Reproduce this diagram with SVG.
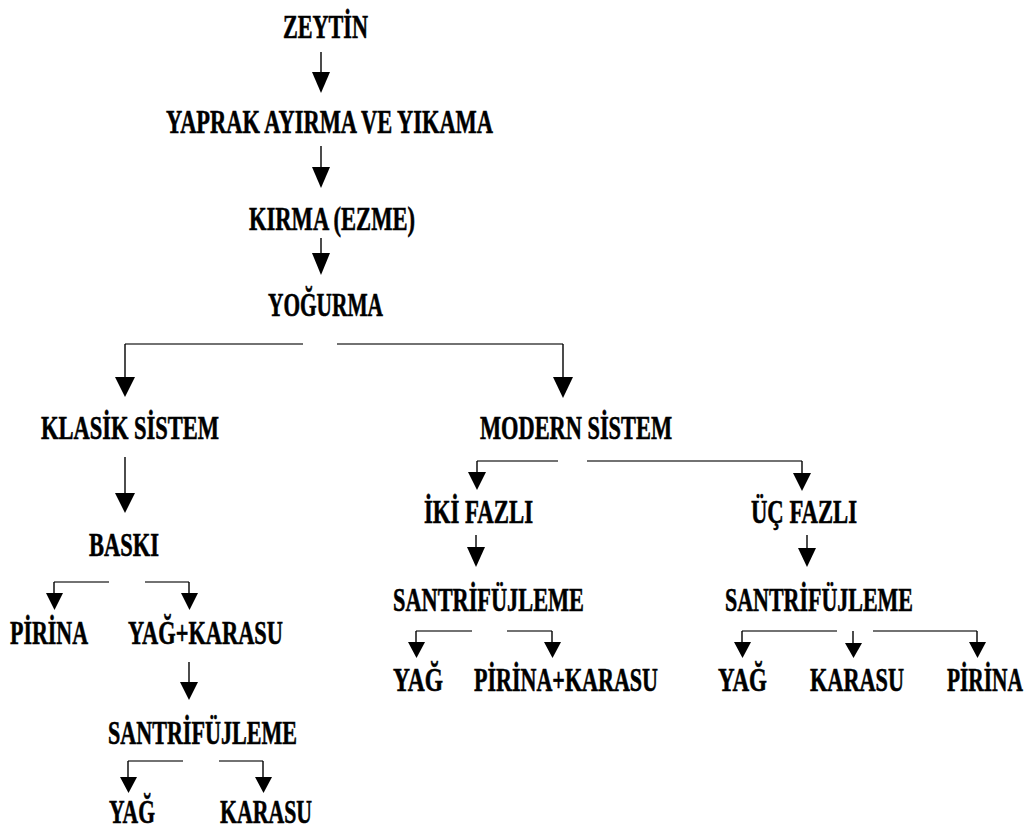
<svg xmlns="http://www.w3.org/2000/svg" width="1030" height="835" viewBox="0 0 1030 835">
<style>
text{font-family:"Liberation Serif","Times New Roman",serif;font-weight:bold;font-size:34px;fill:#000;stroke:#000;stroke-width:0.6}
.h{stroke:#444;stroke-width:1.6;fill:none}
.v{stroke:#000;stroke-width:1.4;fill:none}
.ah{fill:#000;stroke:none}
</style>
<rect width="1030" height="835" fill="#fff"/>
<g id="n-zeytin"><text x="283" y="38" textLength="85" lengthAdjust="spacingAndGlyphs">ZEYTİN</text></g>
<g id="n-yaprak"><text x="166" y="133" textLength="327" lengthAdjust="spacingAndGlyphs">YAPRAK AYIRMA VE YIKAMA</text></g>
<g id="n-kirma"><text x="249" y="230" textLength="166" lengthAdjust="spacingAndGlyphs">KIRMA (EZME)</text></g>
<g id="n-yogurma"><text x="268" y="316" textLength="115" lengthAdjust="spacingAndGlyphs">YOĞURMA</text></g>
<g id="n-klasik"><text x="41" y="439" textLength="178" lengthAdjust="spacingAndGlyphs">KLASİK SİSTEM</text></g>
<g id="n-modern"><text x="480" y="439" textLength="192" lengthAdjust="spacingAndGlyphs">MODERN SİSTEM</text></g>
<g id="n-baski"><text x="89" y="556" textLength="70" lengthAdjust="spacingAndGlyphs">BASKI</text></g>
<g id="n-iki"><text x="424" y="523" textLength="109" lengthAdjust="spacingAndGlyphs">İKİ FAZLI</text></g>
<g id="n-uc"><text x="751" y="523" textLength="106" lengthAdjust="spacingAndGlyphs">ÜÇ FAZLI</text></g>
<g id="n-pirina1"><text x="10" y="644" textLength="78" lengthAdjust="spacingAndGlyphs">PİRİNA</text></g>
<g id="n-yagkarasu"><text x="128" y="644" textLength="155" lengthAdjust="spacingAndGlyphs">YAĞ+KARASU</text></g>
<g id="n-santri1"><text x="108" y="744" textLength="189" lengthAdjust="spacingAndGlyphs">SANTRİFÜJLEME</text></g>
<g id="n-yag1"><text x="109" y="823" textLength="46" lengthAdjust="spacingAndGlyphs">YAĞ</text></g>
<g id="n-karasu1"><text x="220" y="823" textLength="92" lengthAdjust="spacingAndGlyphs">KARASU</text></g>
<g id="n-santri2"><text x="393" y="611" textLength="191" lengthAdjust="spacingAndGlyphs">SANTRİFÜJLEME</text></g>
<g id="n-santri3"><text x="725" y="611" textLength="188" lengthAdjust="spacingAndGlyphs">SANTRİFÜJLEME</text></g>
<g id="n-yag2"><text x="393" y="691" textLength="50" lengthAdjust="spacingAndGlyphs">YAĞ</text></g>
<g id="n-pirinakarasu"><text x="474" y="691" textLength="184" lengthAdjust="spacingAndGlyphs">PİRİNA+KARASU</text></g>
<g id="n-yag3"><text x="718" y="691" textLength="49" lengthAdjust="spacingAndGlyphs">YAĞ</text></g>
<g id="n-karasu3"><text x="810" y="691" textLength="94" lengthAdjust="spacingAndGlyphs">KARASU</text></g>
<g id="n-pirina3"><text x="947" y="691" textLength="76" lengthAdjust="spacingAndGlyphs">PİRİNA</text></g>
<g id="connectors">
<path class="v" d="M321 52V73M321 146V168M321 238V254"/>
<polygon class="ah" points="312,72 330,72 321,93"/>
<polygon class="ah" points="312,167 330,167 321,188"/>
<polygon class="ah" points="312,253 330,253 321,275"/>
<path class="h" d="M303 344H125M337 344H563"/>
<path class="v" d="M125 344V378M563 344V378"/>
<polygon class="ah" points="115,377 135,377 125,397"/>
<polygon class="ah" points="553,377 573,377 563,398"/>
<path class="v" d="M125 457V494"/>
<polygon class="ah" points="115,493 135,493 125,513"/>
<path class="h" d="M109 582H54M145 582H189"/>
<path class="v" d="M54 582V594M189 582V594"/>
<polygon class="ah" points="46,593 63,593 54.5,610"/>
<polygon class="ah" points="181,593 198,593 189.5,610"/>
<path class="v" d="M189 662V683"/>
<polygon class="ah" points="180,682 198,682 189,700"/>
<path class="h" d="M183 761H128M219 761H263"/>
<path class="v" d="M128 761V778M263 761V778"/>
<polygon class="ah" points="120,777 137,777 128.5,793"/>
<polygon class="ah" points="255,777 272,777 263.5,793"/>
<path class="h" d="M558 461H477M587 461H802"/>
<path class="v" d="M477 461V473M802 461V474"/>
<polygon class="ah" points="468,472 486,472 477,490"/>
<polygon class="ah" points="793,473 811,473 802,491"/>
<path class="v" d="M476 535V548"/>
<polygon class="ah" points="467,547 485,547 476,567"/>
<path class="h" d="M472 631H416M507 631H552"/>
<path class="v" d="M416 631V643M552 631V643"/>
<polygon class="ah" points="408,642 425,642 416.5,658"/>
<polygon class="ah" points="544,642 561,642 552.5,658"/>
<path class="v" d="M807 535V549"/>
<polygon class="ah" points="798,548 816,548 807,567"/>
<path class="h" d="M837 631H742M873 631H977"/>
<path class="v" d="M742 631V643M853 631V644M977 631V643"/>
<polygon class="ah" points="734,642 751,642 742.5,658"/>
<polygon class="ah" points="845,643 862,643 853.5,658"/>
<polygon class="ah" points="969,642 986,642 977.5,658"/>
</g>
</svg>
